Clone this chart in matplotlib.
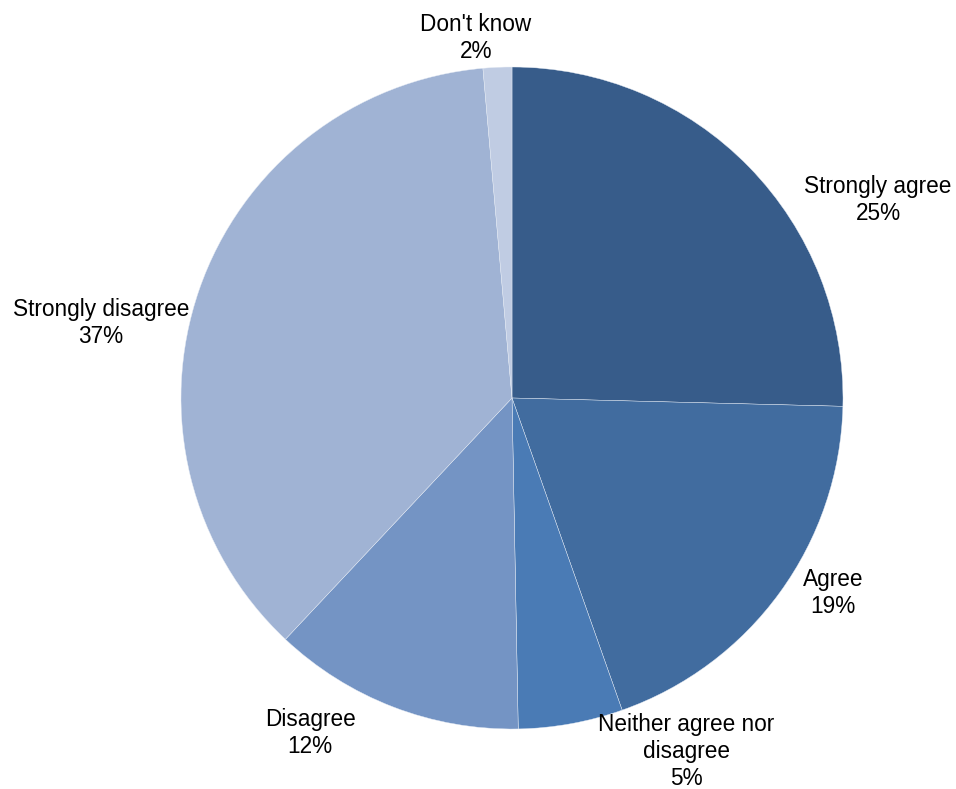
import matplotlib.pyplot as plt

plt.rcParams['font.family'] = ['Liberation Sans', 'DejaVu Sans']

# 응답 데이터
categories = ['Strongly agree', 'Agree', 'Neither agree nor\ndisagree',
              'Disagree', 'Strongly disagree', "Don't know"]
values = [25.4, 19.2, 5.1, 12.3, 36.6, 1.4]
pct_labels = ['25%', '19%', '5%', '12%', '37%', '2%']

colors = ['#375C8A', '#416C9F', '#4A7BB5', '#7494C4', '#A0B3D4', '#C0CCE3']
# 라벨 위치 (반지름 1 기준)
label_pos = [(1.106, 0.598), (0.970, -0.589), (0.526, -1.068),
             (-0.610, -1.012), (-1.242, 0.227), (-0.109, 1.088)]

fig = plt.figure(figsize=(9.56, 7.89), dpi=100)
cx, cy, r = 512, 398, 331
ax = fig.add_axes([(cx - r) / 956, (789 - cy - r) / 789, 2 * r / 956, 2 * r / 789])

ax.pie(values, colors=colors, startangle=90, counterclock=False,
       wedgeprops=dict(edgecolor='#E6ECF5', linewidth=0.3))

for cat, pct, (x, y) in zip(categories, pct_labels, label_pos):
    ax.text(x, y, cat + '\n' + pct, ha='center', va='center',
            fontsize=16.3, linespacing=1.2, color='black')

ax.set_xlim(-1, 1)
ax.set_ylim(-1, 1)
ax.set_aspect('equal')
ax.axis('off')

fig.savefig('out.png', dpi=100)
